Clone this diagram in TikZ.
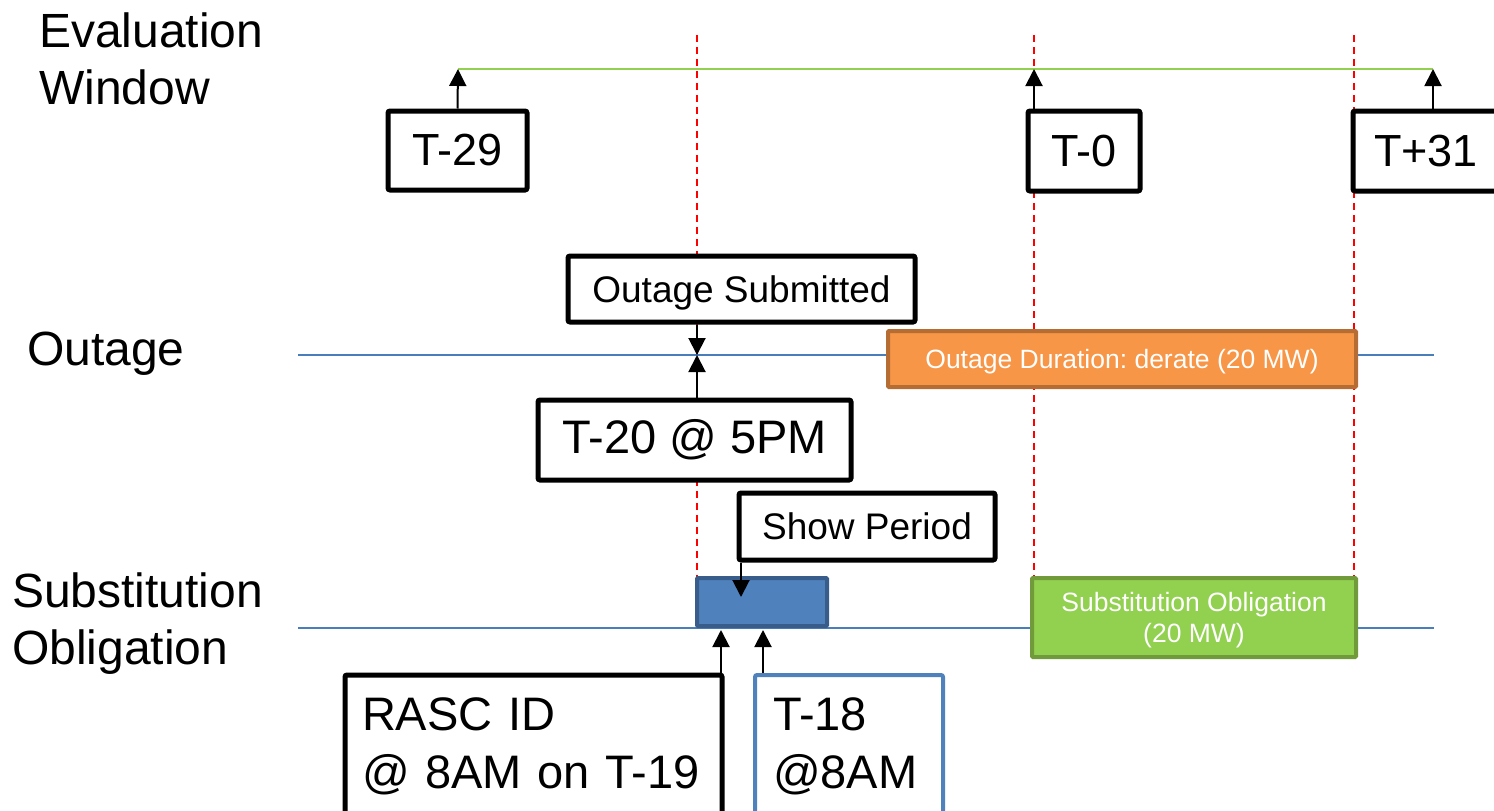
\documentclass[tikz,border=0pt]{standalone}
\usepackage{fontspec}
\setmainfont{Liberation Sans}
\frenchspacing
\definecolor{evgreen}{RGB}{146,208,80}
\definecolor{rowblue}{RGB}{74,126,187}
\definecolor{guidered}{RGB}{255,0,0}
\definecolor{outorange}{RGB}{247,150,70}
\definecolor{outbrown}{RGB}{182,109,52}
\definecolor{showblue}{RGB}{79,129,189}
\definecolor{showdark}{RGB}{56,93,138}
\definecolor{oblgreen}{RGB}{113,155,59}
\usetikzlibrary{arrows.meta,positioning}

\begin{document}
\begin{tikzpicture}[x=1pt, y=-1pt,
    rowlabel/.style={anchor=west, inner sep=0pt, align=left, font=\fontsize{48}{57}\selectfont},
    markbox/.style={rectangle, rounded corners=2pt, draw=black, line width=5pt, fill=white,
      inner sep=0pt, font=\fontsize{45}{54}\selectfont},
    notebox/.style={rectangle, rounded corners=2pt, draw=black, line width=5pt, fill=white,
      inner sep=0pt, font=\fontsize{37}{44}\selectfont},
    spanbar/.style={rectangle, rounded corners=1pt, line width=4pt, text=white, align=center,
      inner sep=0pt, font=\fontsize{26.5}{31}\selectfont},
    uparrow/.style={-{Triangle[width=17pt,length=17pt]}, line width=2pt, black}
  ]
    \useasboundingbox (0,0) rectangle (1494,811);
    % guide lines
    \foreach \gx in {697,1034,1354}
      \draw[guidered, line width=2pt, dash pattern=on 7pt off 5pt] (\gx,35) -- (\gx,578);
    \coordinate (ew0) at (458,69);
    \coordinate (ew1) at (1433,69);
    \coordinate (ewz) at (1034,69);
    \draw[evgreen, line width=2.5pt] (ew0) -- (ew1);
    \draw[rowblue, line width=2pt] (298,355) -- (1434,355);
    \draw[rowblue, line width=2pt] (298,628) -- (1434,628);

    % row labels
    \node[rowlabel] (lab1) at (39,59)  {Evaluation\\Window};
    \node[rowlabel] (lab2) at (27,354) {Outage};
    \node[rowlabel] (lab3) at (12,624) {Substitution\\Obligation};

    % evaluation window
    \node[markbox, minimum width=139pt, minimum height=79pt] (tm29) at (457.5,150.5) {T-29};
    \node[markbox, minimum width=112pt, minimum height=80pt] (tz)   at (1084,151)   {T-0};
    \node[markbox, minimum width=146pt, minimum height=80pt] (tp31) at (1426,151)   {T+31};
    \draw[uparrow] (tm29.north) -- (ew0);
    \draw[uparrow] (tz.north -| ewz) -- (ewz);
    \draw[uparrow] (tp31.north -| ew1) -- (ew1);

    % outage row
    \coordinate (ox) at (697,355);
    \node[notebox, minimum width=347pt, minimum height=66pt, text height=26.5pt, text depth=0pt]
      (osub) at (741.5,289) {Outage Submitted};
    \node[markbox, minimum width=313pt, minimum height=80pt, font=\fontsize{47}{56}\selectfont]
      (tm20) at (694.5,440) {T-20 @ 5PM};
    \node[spanbar, fill=outorange, draw=outbrown, minimum width=468pt, minimum height=56pt,
      text height=19pt, text depth=0pt] (odur) at (1122,359) {Outage Duration: derate (20 MW)};
    \draw[uparrow] (osub.south -| ox) -- (ox);
    \draw[uparrow] (tm20.north -| ox) -- (ox);

    % substitution row
    \node[spanbar, fill=showblue, draw=showdark, minimum width=130pt, minimum height=48pt]
      (sper) at (762,602) {};
    \node[spanbar, fill=evgreen, draw=oblgreen, minimum width=324pt, minimum height=79pt,
      text height=50pt, text depth=0pt] (sobl) at (1194,617.5) {Substitution Obligation\\(20 MW)};
    \node[notebox, minimum width=256pt, minimum height=67pt] (show) at (867,526.5) {Show Period};
    \node[markbox, minimum height=142pt, text width=343pt, inner xsep=17pt, align=left,
      font=\fontsize{47}{58}\selectfont] (rasc) at (533.5,746) {RASC ID\\@ 8AM on T-19};
    \node[markbox, draw=showblue, line width=4pt, minimum height=142pt, text width=152pt,
      inner xsep=18pt, align=left, font=\fontsize{47}{58}\selectfont]
      (tm18) at (849,746) {T-18\\@8AM};
    \coordinate (sx) at (741,597);
    \coordinate (rx) at (721,630);
    \coordinate (tx) at (763,630);
    \draw[uparrow] (show.south -| sx) -- (sx);
    \draw[uparrow] (rasc.north -| rx) -- (rx);
    \draw[uparrow] (tm18.north -| tx) -- (tx);
  \end{tikzpicture}
\end{document}
